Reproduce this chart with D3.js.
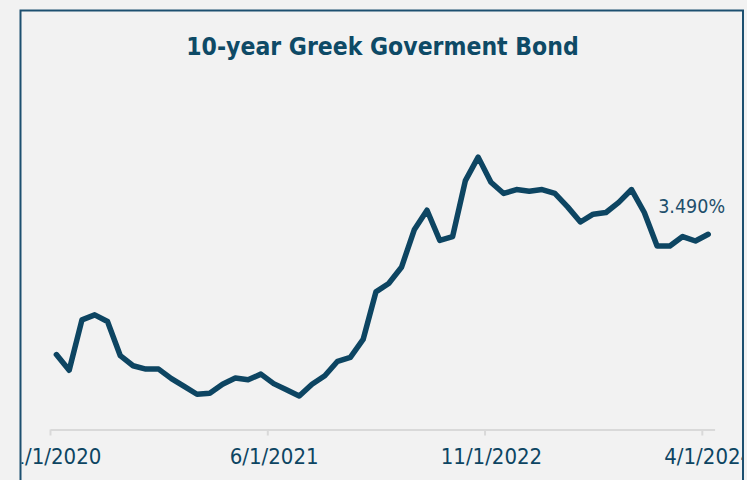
<!DOCTYPE html>
<html>
<head>
<meta charset="utf-8">
<script src="https://cdn.jsdelivr.net/npm/d3@7/dist/d3.min.js"></script>
<style>
  html, body { margin: 0; padding: 0; background: #f2f2f2; }
  svg { display: block; }
  text { font-family: "DejaVu Sans Condensed", "DejaVu Sans", sans-serif; }
</style>
</head>
<body>
<svg id="chart" width="747" height="480"></svg>
<script>
// Monthly 10-year Greek government bond yield (%), Jan 2020 – Apr 2024
const months = d3.timeMonths(new Date(2020, 0, 1), new Date(2024, 4, 1));
const yields = [
  1.34, 1.06, 1.96, 2.05, 1.93, 1.32, 1.14, 1.08, 1.08, 0.91, 0.77, 0.63,
  0.65, 0.81, 0.92, 0.89, 0.99, 0.82, 0.71, 0.60, 0.81, 0.96, 1.22, 1.29,
  1.61, 2.46, 2.61, 2.90, 3.57, 3.92, 3.38, 3.45, 4.45, 4.87, 4.42, 4.22,
  4.29, 4.26, 4.29, 4.22, 3.98, 3.71, 3.85, 3.88, 4.06, 4.29, 3.88, 3.28,
  3.28, 3.45, 3.37, 3.49
];
const tickIndex = [0, 17, 34, 51];
const tickLabels = ["1/1/2020", "6/1/2021", "11/1/2022", "4/1/2024"];
const lastLabel = "3.490%";
const titleText = "10-year Greek Goverment Bond";

const svg = d3.select("#chart");
const navy = "#0d4562";

// Frame and clipping of the chart area
const frame = { left: 20.5, top: 10.5, right: 743, bottom: 490 };
svg.append("defs").append("clipPath").attr("id", "frameClip")
  .append("rect")
  .attr("x", frame.left + 1).attr("y", frame.top + 1)
  .attr("width", frame.right - frame.left - 2)
  .attr("height", frame.bottom - frame.top);

const g = svg.append("g").attr("clip-path", "url(#frameClip)");

// Scales: one band per month, values placed at band centres
const x = d3.scaleLinear().domain([0, months.length]).range([50, 714.6]);
const y = d3.scaleLinear().domain([0, 6]).range([429.5, 429.5 - 6 * 55.93]);
const half = x(0.5) - x(0);

// Title
g.append("text")
  .attr("x", 382.5).attr("y", 54.5)
  .attr("text-anchor", "middle")
  .attr("fill", "#0e4a66")
  .attr("font-weight", "bold")
  .attr("font-size", 24.5)
  .text(titleText);

// Horizontal date axis
const axis = d3.axisBottom(x)
  .tickValues(tickIndex)
  .tickSize(6)
  .tickSizeOuter(0)
  .tickPadding(13)
  .tickFormat((d, i) => tickLabels[i]);

const axisG = g.append("g")
  .attr("transform", `translate(0,${y(0)})`)
  .call(axis);
axisG.select(".domain").attr("stroke", "#d9d9d9").attr("stroke-width", 2);
axisG.selectAll(".tick line").attr("stroke", "#d9d9d9").attr("stroke-width", 2);
axisG.selectAll(".tick text")
  .attr("dx", half)
  .attr("fill", navy)
  .attr("font-size", 22)
  .style("font-family", "'DejaVu Sans Condensed', 'DejaVu Sans', sans-serif");

// Yield line
const line = d3.line()
  .x((d, i) => x(i + 0.5))
  .y(d => y(d));

g.append("path")
  .datum(yields)
  .attr("d", line)
  .attr("fill", "none")
  .attr("stroke", navy)
  .attr("stroke-width", 5.5)
  .attr("stroke-linejoin", "round")
  .attr("stroke-linecap", "round");

// Label for the latest value
const last = yields.length - 1;
g.append("text")
  .attr("x", x(last + 0.5) - 50)
  .attr("y", y(yields[last]) - 21)
  .attr("fill", "#1f4f6c")
  .attr("font-size", 19.5)
  .text(lastLabel);

// Outer frame
svg.append("rect")
  .attr("x", frame.left).attr("y", frame.top)
  .attr("width", frame.right - frame.left)
  .attr("height", frame.bottom - frame.top)
  .attr("fill", "none")
  .attr("stroke", "#1d5070")
  .attr("stroke-width", 2);
</script>
</body>
</html>
